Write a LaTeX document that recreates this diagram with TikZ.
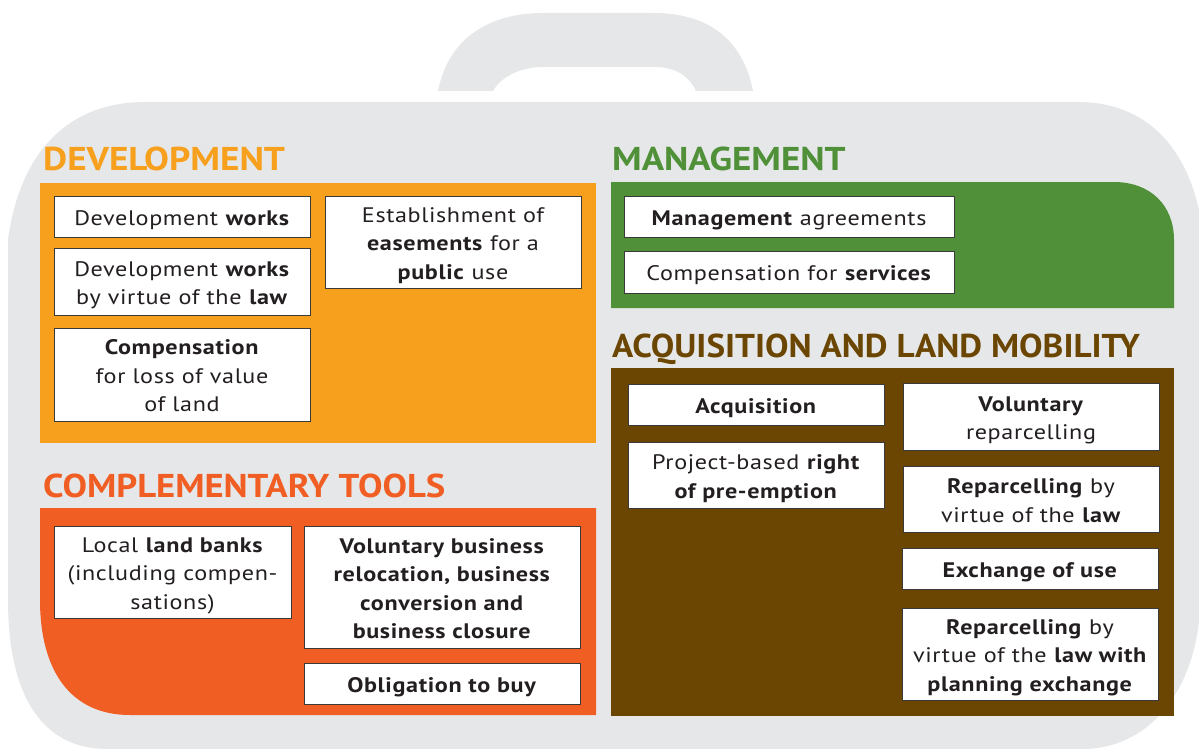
\documentclass[tikz,border=0pt]{standalone}
\usepackage{fontspec}
\usepackage{graphicx}
\setmainfont[FakeStretch=1.15, LetterSpace=3]{PT Sans}
\newfontfamily\headfont{PT Sans}
\definecolor{bodygrey}{HTML}{E6E7E8}
\definecolor{devor}{HTML}{F7A01E}
\definecolor{mangreen}{HTML}{4F9038}
\definecolor{compor}{HTML}{F15E24}
\definecolor{acqbrown}{HTML}{6B4602}
\definecolor{boxline}{HTML}{3A3A3A}
\definecolor{textc}{HTML}{231F20}
\newcommand\bt[1]{\raisebox{-3.2pt}[\height][\depth]{\begin{tabular}{@{}c@{}}#1\end{tabular}}}
\newcommand\hd[2]{\scalebox{#1}[1]{#2}}
\begin{document}
\begin{tikzpicture}[x=1pt,y=-1pt,
  box/.style={draw=boxline, fill=white, line width=0.9pt, text=textc,
    font=\fontsize{21}{28.5}\selectfont, inner sep=0pt},
  head/.style={anchor=base west, inner sep=0pt, font=\headfont\bfseries\fontsize{33}{33}\selectfont}]
\useasboundingbox (0,0) rectangle (1199,749);
\clip (0,0) rectangle (1199,749);
% handle
\fill[bodygrey] (438,91) .. controls (450,30) and (500,13) .. (543,13) -- (654,13)
  .. controls (697,13) and (741,30) .. (753,91) -- (696,91)
  .. controls (690,78) and (678,67) .. (654,67) -- (543,67)
  .. controls (519,67) and (500,78) .. (493,91) -- cycle;
% body
\fill[bodygrey] (145,102) -- (1078,102) .. controls (1140,102) and (1185,140) .. (1200,215)
  -- (1200,610) .. controls (1195,690) and (1150,749) .. (1082,749)
  -- (107,749) .. controls (45,749) and (8,700) .. (8,600)
  -- (8,240) .. controls (20,150) and (70,102) .. (145,102) -- cycle;
% panels
\fill[devor] (40,183) rectangle (596,443);
\fill[mangreen] (611,182) -- (1114,182) .. controls (1150,182) and (1174,205) .. (1174,240) -- (1174,308) -- (611,308) -- cycle;
\fill[acqbrown] (611,368) rectangle (1174,716);
\fill[compor] (40,508) -- (596,508) -- (596,715) -- (130,715) .. controls (70,715) and (40,670) .. (40,600) -- cycle;
% headings
\node[head, text=devor] (hdev) at (43,170) {\hd{1.127}{DEVELOPMENT}};
\node[head, text=mangreen] (hman) at (612,170) {\hd{1.12}{MANAGEMENT}};
\node[head, text=acqbrown] (hacq) at (612,357) {\hd{1.065}{ACQUISITION AND LAND MOBILITY}};
\node[head, text=compor] (hcomp) at (43,497) {\hd{1.11}{COMPLEMENTARY TOOLS}};
% development boxes
\node[box, minimum width=256, minimum height=41] (dw) at (182,216.5) {\bt{Development \textbf{works}}};
\node[box, minimum width=256, minimum height=67] (dwl) at (182,281.5) {\bt{Development \textbf{works}\\by virtue of the \textbf{law}}};
\node[box, minimum width=256, minimum height=93] (comp) at (182,374.5) {\bt{\textbf{Compensation}\\for loss of value\\of land}};
\node[box, minimum width=256, minimum height=92] (ease) at (453,242) {\bt{Establishment of\\\textbf{easements} for a\\\textbf{public} use}};
% management boxes
\node[box, minimum width=330, minimum height=41] (ma) at (789,216.5) {\bt{\textbf{Management} agreements}};
\node[box, minimum width=330, minimum height=42] (cs) at (789,272) {\bt{Compensation for \textbf{services}}};
% acquisition boxes
\node[box, minimum width=256, minimum height=41] (acq) at (756,404.5) {\bt{\textbf{Acquisition}}};
\node[box, minimum width=256, minimum height=66] (pre) at (756,475) {\bt{Project-based \textbf{right}\\\textbf{of pre-emption}}};
\node[box, minimum width=256, minimum height=67] (vr) at (1031,416.5) {\bt{\textbf{Voluntary}\\reparcelling}};
\node[box, minimum width=256, minimum height=66] (rl) at (1031,499) {\bt{\textbf{Reparcelling} by\\virtue of the \textbf{law}}};
\node[box, minimum width=256, minimum height=41] (eu) at (1030,568.5) {\bt{\textbf{Exchange of use}}};
\node[box, minimum width=256, minimum height=92] (rlp) at (1030,654) {\bt{\textbf{Reparcelling} by\\virtue of the \textbf{law with}\\\textbf{planning exchange}}};
% complementary boxes
\node[box, minimum width=237, minimum height=92] (lb) at (172.5,572) {\bt{Local \textbf{land banks}\\(including compen-\\sations)}};
\node[box, minimum width=276, minimum height=122] (vb) at (442,587) {\bt{\textbf{Voluntary business}\\\textbf{relocation, business}\\\textbf{conversion and}\\\textbf{business closure}}};
\node[box, minimum width=276, minimum height=41] (ob) at (442,683.5) {\bt{\textbf{Obligation to buy}}};
\end{tikzpicture}
\end{document}
